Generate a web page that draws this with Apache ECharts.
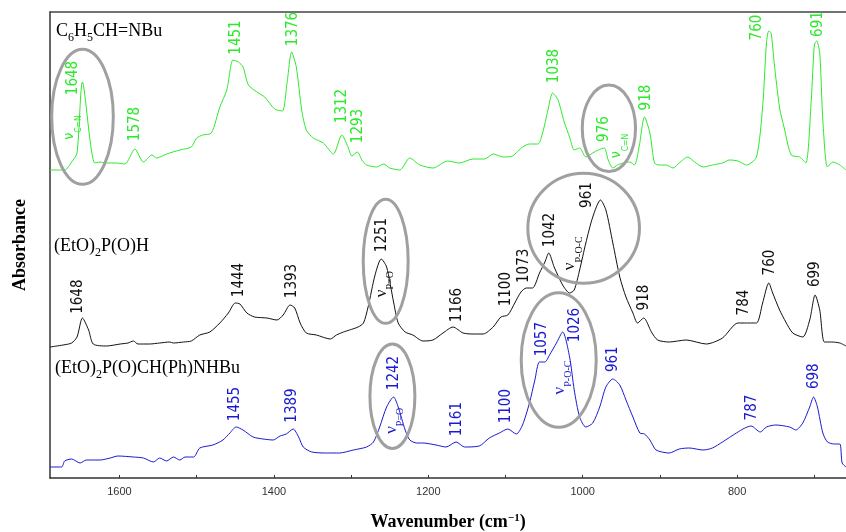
<!DOCTYPE html>
<html>
<head>
<meta charset="utf-8">
<script src="https://cdn.jsdelivr.net/npm/echarts@6/dist/echarts.min.js"></script>
<style>html,body{margin:0;padding:0;background:#fff}#c{width:846px;height:532px}</style>
</head>
<body>
<div id="c"></div>
<script>
// ---- data (wavenumber cm-1, absorbance in offset a.u.) ----
const xTickValues = [700, 800, 900, 1000, 1100, 1200, 1300, 1400, 1500, 1600];
const xLabelValues = [800, 1000, 1200, 1400, 1600];

const imineTrace = [[1690,308],[1671,308],[1662,316],[1655,325],[1648,396],[1632,315],[1625,316],[1617,315],[1604,315],[1593,314],[1580,329],[1569,316],[1558,323],[1552,320],[1539,324],[1522,328],[1507,331],[1500,340],[1492,343],[1481,345],[1470,371],[1461,388],[1453,418],[1446,416],[1440,411],[1433,393],[1422,386],[1412,381],[1399,369],[1389,367],[1383,395],[1377,426],[1371,411],[1364,368],[1358,348],[1349,340],[1336,335],[1323,324],[1312,343],[1304,331],[1299,322],[1292,326],[1286,318],[1280,313],[1267,311],[1258,314],[1250,310],[1237,308],[1224,320],[1211,313],[1194,310],[1175,317],[1160,315],[1142,319],[1127,319],[1116,324],[1103,321],[1091,322],[1078,331],[1069,334],[1058,334],[1052,345],[1045,368],[1039,385],[1032,378],[1024,356],[1017,341],[1011,328],[1004,330],[996,321],[987,325],[980,328],[972,330],[967,318],[961,310],[955,313],[948,315],[939,316],[933,313],[927,331],[920,361],[913,345],[907,315],[901,313],[892,313],[883,310],[875,315],[864,321],[855,316],[844,311],[832,313],[819,315],[810,318],[799,317],[788,313],[775,321],[767,371],[762,435],[759,447],[756,445],[752,415],[745,370],[739,350],[730,323],[719,321],[711,315],[704,378],[700,433],[697,437],[693,425],[689,358],[683,311],[676,316],[667,313],[659,308]];

const phosphiteTrace = [[1690,131],[1673,133],[1662,135],[1655,141],[1648,160],[1640,148],[1634,134],[1617,132],[1599,134],[1589,135],[1582,137],[1576,134],[1561,134],[1548,135],[1535,136],[1530,135],[1517,136],[1507,137],[1496,143],[1483,146],[1470,155],[1459,165],[1450,175],[1444,174],[1435,165],[1425,161],[1409,160],[1396,158],[1388,163],[1379,173],[1373,170],[1366,155],[1358,145],[1345,143],[1327,139],[1319,143],[1310,146],[1302,148],[1291,151],[1284,155],[1278,171],[1269,203],[1261,219],[1254,211],[1245,176],[1239,155],[1230,146],[1220,143],[1207,137],[1194,138],[1181,145],[1168,151],[1155,145],[1142,144],[1129,144],[1116,151],[1106,161],[1097,163],[1088,175],[1080,186],[1073,190],[1065,190],[1056,205],[1049,216],[1044,225],[1037,211],[1026,193],[1017,185],[1011,188],[1004,208],[996,235],[987,261],[977,278],[970,268],[961,235],[952,201],[944,181],[935,165],[929,155],[921,160],[911,146],[903,138],[888,136],[866,138],[840,134],[819,140],[799,155],[788,155],[775,155],[767,175],[759,195],[754,185],[745,168],[737,156],[728,145],[715,141],[706,158],[699,183],[693,168],[687,136],[678,136],[667,135],[659,132]];

const aminophosphonateTrace = [[1690,11],[1675,11],[1671,17],[1662,19],[1651,15],[1643,18],[1625,18],[1612,20],[1602,22],[1582,21],[1569,20],[1556,16],[1548,20],[1539,17],[1530,21],[1522,18],[1515,21],[1504,21],[1496,30],[1479,33],[1466,38],[1457,45],[1449,51],[1440,48],[1427,41],[1414,39],[1401,38],[1392,42],[1384,44],[1375,49],[1368,41],[1362,31],[1351,26],[1332,25],[1315,25],[1297,28],[1280,31],[1271,36],[1263,51],[1254,71],[1245,81],[1239,71],[1230,48],[1224,38],[1215,35],[1207,35],[1190,33],[1177,31],[1164,36],[1153,31],[1134,32],[1121,40],[1108,45],[1097,49],[1086,44],[1078,53],[1069,75],[1062,98],[1056,116],[1049,116],[1043,123],[1034,135],[1026,146],[1017,121],[1011,88],[1004,61],[996,51],[987,55],[978,71],[970,91],[961,99],[952,93],[944,78],[935,61],[926,45],[920,44],[913,38],[905,28],[888,25],[875,29],[862,30],[844,28],[832,30],[819,36],[801,45],[790,50],[782,52],[770,46],[762,51],[750,53],[732,51],[724,48],[715,55],[706,71],[701,81],[696,71],[689,45],[683,36],[674,34],[667,34],[664,15],[659,11]];

// peak labels: [wavenumber, height, text]
const iminePeaks = [[1660.5,400,'1648'],[1580,354,'1578'],[1449.4,440.5,'1451'],[1375.6,449,'1376'],[1311.2,372,'1312'],[1291.4,352,'1293'],[1037.6,412,'1038'],[972,349,'976'],[918.2,380.5,'918'],[773.5,450.5,'760'],[694.9,454,'691']];
const imineModes = [[1664.7,350.5,'C=N'],[956.2,332,'C=N']];
const phosphitePeaks = [[1653.1,181.3,'1648'],[1445,198,'1444'],[1377,197,'1393'],[1259.4,243,'1251'],[1162.7,173,'1166'],[1098.9,188.8,'1100'],[1075.6,212.2,'1073'],[1041.9,248,'1042'],[994,283,'961'],[920.4,180.5,'918'],[790.9,175.5,'784'],[757,215.5,'760'],[698.4,203.8,'699']];
const phosphiteModes = [[1260.5,193.8,'P=O'],[1016.6,224.7,'P-O-C']];
const aminoPeaks = [[1450.4,74,'1455'],[1377,72.5,'1389'],[1244.3,105,'1242'],[1163.3,58.8,'1161'],[1099.1,71.8,'1100'],[1052.3,138.8,'1057'],[1009.5,153,'1026'],[960.6,118.8,'961'],[780.3,70.5,'787'],[700.4,101.8,'698']];
const aminoModes = [[1247.6,57.2,'P=O'],[1030,100.5,'P-O-C']];

// highlight ellipses: [centre wavenumber, centre height, half-width (cm-1), half-height]
const highlightEllipses = [[1647.9,361.2,39.9,67.5],[966.1,349.7,34.5,43.3],[1255.2,216.7,29.1,62],[998.8,249.7,72.3,55],[1246.5,81.8,29.1,52.2],[1031.1,118,48.6,67.3]];

const GREEN = '#2ee82e', BLACK = '#111111', BLUE = '#1a1ad0';
const SANS = '"DejaVu Sans Condensed","DejaVu Sans",sans-serif';
const SERIF = '"Liberation Serif","DejaVu Serif",serif';

function peakSeries(arr, color) {
  return {
    type: 'scatter', data: arr.map(p => ({value: [p[0], p[1]], name: p[2]})),
    symbolSize: 1, itemStyle: {color: 'rgba(0,0,0,0)'}, silent: true, clip: false, z: 5,
    labelLayout: {hideOverlap: false},
    label: {show: true, position: 'inside', rotate: 90, formatter: '{b}', color: color, opacity: 1,
      fontFamily: SANS, fontSize: 15}
  };
}
function modeSeries(arr, color, serif) {
  const big = serif ? 17 : 14, small = serif ? 10 : 8.5, lh = serif ? 28 : 27;
  return {
    type: 'scatter', data: arr.map(p => ({value: [p[0], p[1]], name: '{v|\u03bd}{s|' + p[2] + '}'})),
    symbolSize: 1, itemStyle: {color: 'rgba(0,0,0,0)'}, silent: true, clip: false, z: 5,
    label: {show: true, position: 'inside', rotate: 90, formatter: '{b}', color: color, opacity: 1,
      rich: {
        v: {fontFamily: serif ? SERIF : SANS, fontSize: big, lineHeight: big, color: color, verticalAlign: 'middle'},
        s: {fontFamily: serif ? SERIF : SANS, fontSize: small, lineHeight: lh, color: color, verticalAlign: 'bottom'}
      }}
  };
}
function trace(data, color) {
  return {type: 'line', data: data, showSymbol: false, smooth: 0.25, silent: true,
    lineStyle: {color: color, width: 1}, z: 3};
}

const chart = echarts.init(document.getElementById('c'), null, {renderer: 'canvas'});
const subRich = {
  sub: {fontFamily: SERIF, fontSize: 12, lineHeight: 26, verticalAlign: 'bottom', color: '#000'},
  m: {fontFamily: SERIF, fontSize: 18, lineHeight: 18, verticalAlign: 'middle', color: '#000'}
};
chart.setOption({
  animation: false,
  grid: {left: 50, right: 0, top: 12, bottom: 54, containLabel: false, outerBoundsMode: 'none'},
  xAxis: [{
    type: 'value', inverse: true, min: 659, max: 1690,
    name: 'Wavenumber (cm{sup|\u22121})', nameLocation: 'middle', nameGap: 35,
    nameTextStyle: {fontFamily: SERIF, fontWeight: 'bold', fontSize: 18, color: '#000',
      rich: {sup: {fontFamily: SERIF, fontWeight: 'bold', fontSize: 11, verticalAlign: 'top', lineHeight: 18, color: '#000'}}},
    axisLine: {show: true, lineStyle: {color: '#333', width: 1.5}},
    axisTick: {show: true, inside: true, length: 3, customValues: xTickValues, lineStyle: {color: '#333'}},
    axisLabel: {customValues: xLabelValues, margin: 8, formatter: v => String(v),
      fontFamily: '"Liberation Sans",Arial,sans-serif', fontSize: 11, color: '#333'},
    splitLine: {show: false}
  }, {
    type: 'value', inverse: true, min: 659, max: 1690, position: 'top',
    axisLine: {show: true, lineStyle: {color: '#444', width: 1.5}},
    axisTick: {show: false}, axisLabel: {show: false}, splitLine: {show: false}
  }],
  yAxis: {
    type: 'value', min: 0, max: 466,
    name: 'Absorbance', nameLocation: 'middle', nameGap: 21,
    nameTextStyle: {fontFamily: SERIF, fontWeight: 'bold', fontSize: 18, color: '#000'},
    axisLine: {show: true, lineStyle: {color: '#333', width: 1.5}},
    axisTick: {show: false}, axisLabel: {show: false}, splitLine: {show: false}
  },
  graphic: [
    {type: 'text', x: 56, y: 31, style: {text: '{m|C}{sub|6}{m|H}{sub|5}{m|CH=NBu}', rich: subRich, verticalAlign: 'middle'}},
    {type: 'text', x: 54, y: 246, style: {text: '{m|(EtO)}{sub|2}{m|P(O)H}', rich: subRich, verticalAlign: 'middle'}},
    {type: 'text', x: 55, y: 368, style: {text: '{m|(EtO)}{sub|2}{m|P(O)CH(Ph)NHBu}', rich: subRich, verticalAlign: 'middle'}}
  ],
  series: [
    trace(imineTrace, GREEN),
    trace(phosphiteTrace, BLACK),
    trace(aminophosphonateTrace, BLUE),
    {
      type: 'custom', data: highlightEllipses, silent: true, clip: false, z: 4,
      renderItem: function (params, api) {
        const c = api.coord([api.value(0), api.value(1)]);
        const s = api.size([api.value(2), api.value(3)]);
        return {type: 'ellipse', shape: {cx: c[0], cy: c[1], rx: Math.abs(s[0]), ry: Math.abs(s[1])},
          style: {fill: 'none', stroke: '#a0a0a0', lineWidth: 3}};
      }
    },
    peakSeries(iminePeaks, GREEN),
    modeSeries(imineModes, GREEN, false),
    peakSeries(phosphitePeaks, BLACK),
    modeSeries(phosphiteModes, BLACK, true),
    peakSeries(aminoPeaks, BLUE),
    modeSeries(aminoModes, BLUE, true)
  ]
});
</script>
</body>
</html>
